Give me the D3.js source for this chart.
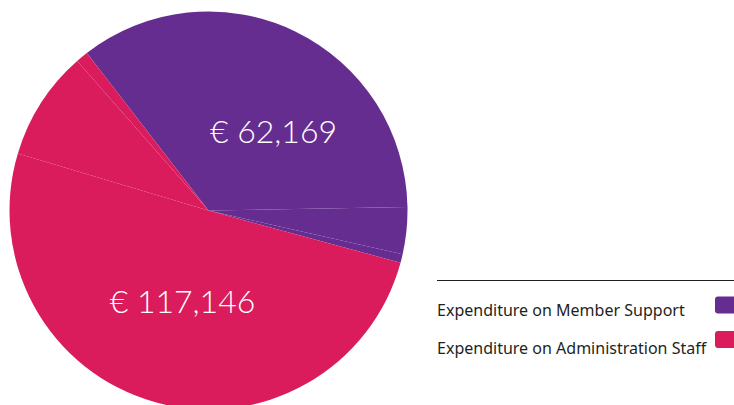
<!DOCTYPE html>
<html lang="en">
<head>
    <meta charset="UTF-8">
    <title>Expenditure Pie</title>
    <script src="https://d3js.org/d3.v7.min.js"></script>
    <style>
        body { margin: 0; background: #fff; }
        text { font-family: "Lato", "Noto Sans", sans-serif; }
    </style>
</head>
<body>

<script>
    // Slices (share of the pie, %)
    var sliceSeries = ["Member Support", "Member Support", "Member Support",
                       "Administration Staff", "Administration Staff", "Administration Staff"];
    var sliceValues = [35.2, 3.8, 0.7, 50.4, 8.9, 1.0];

    // Series, legend labels and totals shown on the chart
    var seriesKeys = ["Member Support", "Administration Staff"];
    var legendLabels = ["Expenditure on Member Support", "Expenditure on Administration Staff"];
    var totalLabels = ["€ 62,169", "€ 117,146"];
    var seriesColors = ["#662d91", "#da1c5c"];

    var width = 734, height = 405;
    var cx = 208.5, cy = 210.5, radius = 199;

    var svg = d3.select("body").append("svg")
        .attr("width", width)
        .attr("height", height);

    var color = d3.scaleOrdinal().domain(seriesKeys).range(seriesColors);

    var pie = d3.pie()
        .sort(null)
        .startAngle(-37.7 * Math.PI / 180)
        .endAngle((360 - 37.7) * Math.PI / 180)
        .value(d => d.value);

    var data = sliceValues.map((v, i) => ({ key: sliceSeries[i], value: v }));

    var arc = d3.arc().innerRadius(0).outerRadius(radius);

    var g = svg.append("g")
        .attr("transform", "translate(" + cx + "," + cy + ")");

    g.selectAll("path")
        .data(pie(data))
        .enter().append("path")
        .attr("fill", d => color(d.data.key))
        .attr("d", arc);

    // totals inside the pie
    var labelOffsets = [[65, -79], [-26, 91]];
    g.selectAll(".total")
        .data(totalLabels)
        .enter().append("text")
        .attr("class", "total")
        .attr("x", (d, i) => labelOffsets[i][0])
        .attr("y", (d, i) => labelOffsets[i][1])
        .attr("dy", "0.35em")
        .attr("text-anchor", "middle")
        .attr("fill", "#fff")
        .style("font-size", "32px")
        .style("font-weight", 300)
        .text(d => d);

    // legend
    svg.append("line")
        .attr("x1", 437).attr("x2", width)
        .attr("y1", 280.5).attr("y2", 280.5)
        .attr("stroke", "#231f20")
        .attr("stroke-width", 1);

    var legend = svg.selectAll(".legend")
        .data(seriesKeys)
        .enter().append("g")
        .attr("class", "legend");

    legend.append("rect")
        .attr("x", 715)
        .attr("y", (d, i) => 296.5 + i * 34.5)
        .attr("width", 24)
        .attr("height", 17)
        .attr("rx", 3)
        .attr("fill", d => color(d));

    var legendText = legend.append("text")
        .attr("x", 437)
        .attr("y", (d, i) => 315.5 + i * 38.5)
        .attr("fill", "#231f20")
        .style("font-family", "'Noto Sans', sans-serif")
        .style("font-size", "15px")
        .text((d, i) => legendLabels[i]);

    // fit the first label to the width it has in the original (~250px)
    var w0 = legendText.node().getComputedTextLength();
    legendText.style("font-size", (15 * 248 / w0).toFixed(2) + "px");
</script>

</body>
</html>
